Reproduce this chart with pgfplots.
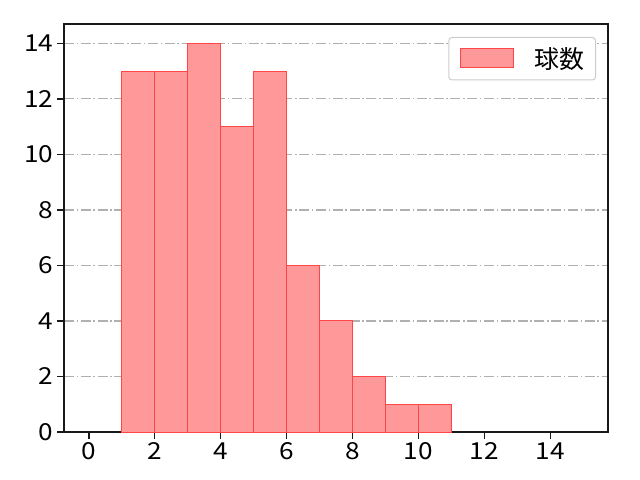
\documentclass[border=0pt]{standalone}
\usepackage{fontspec}
\setmainfont{Noto Sans CJK JP}
\newfontfamily\tickfont[FakeStretch=1.12]{Noto Sans CJK JP}
\usepackage{pgfplots}
\pgfplotsset{compat=1.18}

\definecolor{barfill}{RGB}{255,153,153}
\definecolor{baredge}{RGB}{255,70,70}
\definecolor{gridgray}{RGB}{176,176,176}

\begin{document}
\begin{tikzpicture}
\begin{axis}[
    scale only axis,
    width=544bp, height=408bp,
    xmin=-0.75, xmax=15.75,
    ymin=0, ymax=14.7,
    xtick={0,2,...,14},
    ytick={0,2,...,14},
    tick pos=left,
    tick align=outside,
    major tick length=7bp,
    axis line style={line width=1.6bp, black!90},
    tick style={line width=1.6bp, black!90},
    ymajorgrids=true,
    grid style={line width=1.1bp, gridgray, dash pattern=on 10bp off 2.6bp on 1.6bp off 2.6bp},
    ticklabel style={font=\tickfont\fontsize{23.5}{26}\selectfont},
    /pgf/number format/assume math mode=true,
    legend style={
        at={(1,1)}, anchor=north east,
        xshift=-12bp, yshift=-13bp,
        draw=gray!40, line width=1bp, rounded corners=3bp,
        font=\fontsize{25}{28}\selectfont,
        inner xsep=11bp, inner ysep=10bp,
        nodes={inner xsep=0bp, inner ysep=0bp},
        /tikz/every odd column/.append style={column sep=21bp},
        cells={anchor=west},
    },
]
\addplot[ybar interval, fill=barfill, draw=baredge, line width=1bp,
    legend image code/.code={
        \fill[barfill, draw=baredge, line width=0.8bp, sharp corners] (0bp,-8.5bp) rectangle (53bp,10.5bp);
    }]
coordinates {
    (1,13) (2,13) (3,14) (4,11) (5,13) (6,6) (7,4) (8,2) (9,1) (10,1) (11,1)
};
\addlegendentry{球数}
\end{axis}
\path ([shift={(-64bp,-48bp)}]current axis.south west) rectangle ([shift={(32bp,24bp)}]current axis.north east);
\end{tikzpicture}
\end{document}
